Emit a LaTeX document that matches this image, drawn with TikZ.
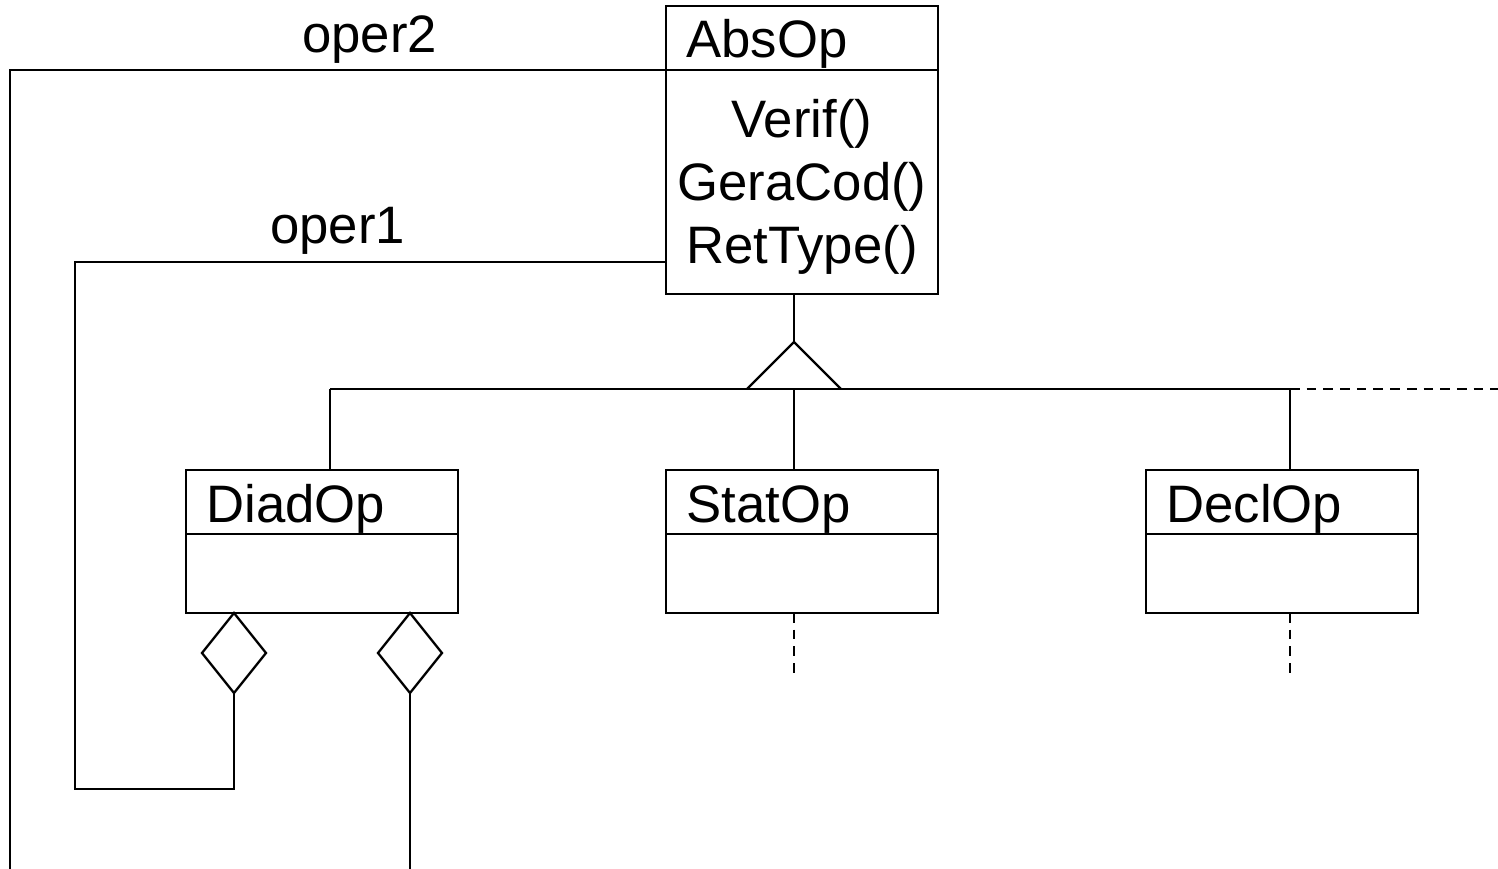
\documentclass[tikz,border=0pt]{standalone}
\usepackage{fontspec}
\setmainfont{Liberation Sans}
\usetikzlibrary{shapes.geometric, positioning}

\tikzset{
  classbox/.style={draw, line width=1.3pt, rectangle, minimum width=5.44cm, inner sep=0pt, outer sep=0pt},
  aggr/.style={draw, line width=1.3pt, diamond, minimum width=1.28cm, minimum height=1.6cm, inner sep=0pt, outer sep=0pt},
  txt/.style={font=\fontsize{30}{36}\selectfont, inner sep=0pt},
  link/.style={line width=1.3pt},
  dashlink/.style={line width=1.3pt, dash pattern=on 5.5pt off 4pt}
}

\begin{document}
\begin{tikzpicture}[x=0.02cm, y=-0.02cm]
  \useasboundingbox (0,0) rectangle (1498,869);

  % Classes
  \node[classbox, minimum height=5.76cm] (absop) at (802,150) {};
  \node[classbox, minimum height=2.86cm] (diadop) at (322,541.5) {};
  \node[classbox, minimum height=2.86cm] (statop) at (802,541.5) {};
  \node[classbox, minimum height=2.86cm] (declop) at (1282,541.5) {};

  % Compartment lines
  \draw[link] (absop.west |- 0,70) -- (absop.east |- 0,70);
  \foreach \c in {diadop,statop,declop} {
    \draw[link] (\c.west |- 0,534) -- (\c.east |- 0,534);
  }

  % Class names
  \node[txt, anchor=base west] (absopname) at (686,57) {AbsOp};
  \node[txt, anchor=base west] (diadopname) at (206,522) {DiadOp};
  \node[txt, anchor=base west] (statopname) at (686,522) {StatOp};
  \node[txt, anchor=base west] (declopname) at (1166,522) {DeclOp};

  % Methods of AbsOp
  \node[txt, anchor=base] (verif) at (802,137) {Verif()};
  \node[txt, anchor=base] (geracod) at (802,200) {GeraCod()};
  \node[txt, anchor=base] (rettype) at (802,263) {RetType()};

  % Inheritance
  \coordinate (inh) at (794,342);
  \coordinate (busd) at (330,389);
  \coordinate (buss) at (794,389);
  \coordinate (busc) at (1290,389);
  \coordinate (busend) at (1498,389);
  \draw[link] (absop.south -| inh) -- (inh);
  \draw[link, line join=miter] (747,389) -- (inh) -- (841,389);
  \draw[link] (busd) -- (busc);
  \draw[dashlink] (busc) -- (busend);
  \draw[link] (busd) -- (busd |- diadop.north);
  \draw[link] (buss) -- (buss |- statop.north);
  \draw[link] (busc) -- (busc |- declop.north);

  % Continuations
  \draw[dashlink] (statop.south -| buss) -- ++(0,65);
  \draw[dashlink] (declop.south -| busc) -- ++(0,65);

  % Aggregations
  \node[aggr, anchor=north] (agg1) at (234,613) {};
  \node[aggr, anchor=north] (agg2) at (410,613) {};
  \coordinate (o1turn) at (75,789);
  \coordinate (o1end) at (666,262);
  \coordinate (o2turn) at (10,70);
  \draw[link] (agg1.south) |- (o1turn) |- (o1end);
  \draw[link] (agg2.south) -- (agg2.south |- 0,869);
  \draw[link] (absop.west |- o2turn) -- (o2turn) -- (o2turn |- 0,869);

  % Role names
  \node[txt, anchor=base west] (oper1) at (270,243) {oper1};
  \node[txt, anchor=base west] (oper2) at (302,52) {oper2};
\end{tikzpicture}
\end{document}
